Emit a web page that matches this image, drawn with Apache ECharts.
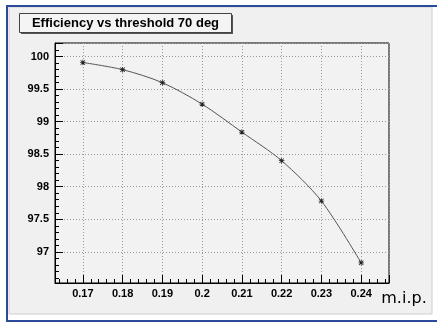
<!DOCTYPE html>
<html>
<head>
<meta charset="utf-8">
<script src="https://cdn.jsdelivr.net/npm/echarts@6/dist/echarts.min.js"></script>
<style>
html, body { margin: 0; padding: 0; background: #fff; }
#chart { width: 437px; height: 323px; }
</style>
</head>
<body>
<div id="chart"></div>
<script>
// threshold (m.i.p.) and efficiency
var thresholds = [0.17, 0.18, 0.19, 0.20, 0.21, 0.22, 0.23, 0.24];
var efficiency = [99.91, 99.80, 99.60, 99.27, 98.84, 98.40, 97.78, 96.83];

var titleText = 'Efficiency vs threshold 70 deg';
var xTitle = 'm.i.p.';

// frame range like ROOT (10% margin)
var xMin = 0.163, xMax = 0.247;
var yMin = 96.52, yMax = 100.21;

var points = [];
for (var i = 0; i < thresholds.length; i++) {
    points.push([thresholds[i], efficiency[i]]);
}

// asterisk marker
var starPath = 'path://M0,4.3L10,4.3L10,5.7L0,5.7Z M4.3,0L5.7,0L5.7,10L4.3,10Z ' +
    'M0.5,1.5L1.5,0.5L9.5,8.5L8.5,9.5Z M8.5,0.5L9.5,1.5L1.5,9.5L0.5,8.5Z';

var myChart = echarts.init(document.getElementById('chart'));
var option = {
    animation: false,
    backgroundColor: '#fff',
    graphic: [
        {type: 'rect', shape: {x: 9, y: 7, width: 423, height: 307}, style: {fill: '#f0f0f0', stroke: '#cfcfcf', lineWidth: 1}, z: -10},
        {type: 'rect', shape: {x: 6, y: 5, width: 2, height: 317}, style: {fill: '#2b4a9a'}, z: -5},
        {type: 'rect', shape: {x: 6, y: 5, width: 431, height: 2}, style: {fill: '#2b4a9a'}, z: -5},
        {type: 'rect', shape: {x: 6, y: 320, width: 431, height: 2}, style: {fill: '#2b4a9a'}, z: -5},
        // title box with shadow
        {type: 'rect', shape: {x: 21, y: 15, width: 212, height: 19}, style: {fill: '#555'}, z: 10},
        {type: 'rect', shape: {x: 19.5, y: 13.5, width: 212, height: 19}, style: {fill: '#f4f4f4', stroke: '#444', lineWidth: 1}, z: 11},
        {type: 'text', x: 125.5, y: 23, z: 12, style: {text: titleText, fill: '#000', font: 'bold 13px "Liberation Sans", Arial, sans-serif', align: 'center', verticalAlign: 'middle'}},
        {type: 'text', x: 404, y: 299, z: 12, style: {text: xTitle, fill: '#000', font: '16px "DejaVu Sans", sans-serif', align: 'center', verticalAlign: 'middle'}}
    ],
    grid: {
        left: 55, top: 43, right: 48, bottom: 40,
        show: true,
        backgroundColor: '#f2f2f2',
        borderColor: '#000',
        borderWidth: 1
    },
    xAxis: {
        type: 'value',
        min: xMin, max: xMax,
        splitNumber: 8,
        axisLine: {show: true, lineStyle: {color: '#000', width: 1}},
        axisTick: {show: true, inside: true, length: 8, lineStyle: {color: '#000'}},
        minorTick: {show: true, splitNumber: 5, length: 4, lineStyle: {color: '#000'}},
        splitLine: {show: true, lineStyle: {color: '#999', type: [1, 2], width: 1}},
        axisLabel: {
            color: '#000', fontWeight: 'bold', fontSize: 11, margin: 5,
            fontFamily: '"Liberation Sans", Arial, sans-serif',
            formatter: function (v) {
                var r = Math.round(v * 100) / 100;
                return Math.abs(v - r) < 1e-6 ? String(r) : '';
            }
        }
    },
    yAxis: {
        type: 'value',
        min: yMin, max: yMax,
        splitNumber: 7,
        axisLine: {show: true, lineStyle: {color: '#000', width: 1}},
        axisTick: {show: true, inside: true, length: 8, lineStyle: {color: '#000'}},
        minorTick: {show: true, splitNumber: 5, length: 4, lineStyle: {color: '#000'}},
        splitLine: {show: true, lineStyle: {color: '#999', type: [1, 2], width: 1}},
        axisLabel: {
            color: '#000', fontWeight: 'bold', fontSize: 11, margin: 6,
            fontFamily: '"Liberation Sans", Arial, sans-serif',
            formatter: function (v) {
                var r = Math.round(v * 2) / 2;
                return Math.abs(v - r) < 1e-6 ? String(r) : '';
            }
        }
    },
    series: [
        {
            type: 'line',
            data: points,
            smooth: 0.3,
            symbol: starPath,
            symbolSize: 5.5,
            itemStyle: {color: '#222'},
            lineStyle: {color: '#555', width: 1}
        }
    ]
};
myChart.setOption(option);
</script>
</body>
</html>
